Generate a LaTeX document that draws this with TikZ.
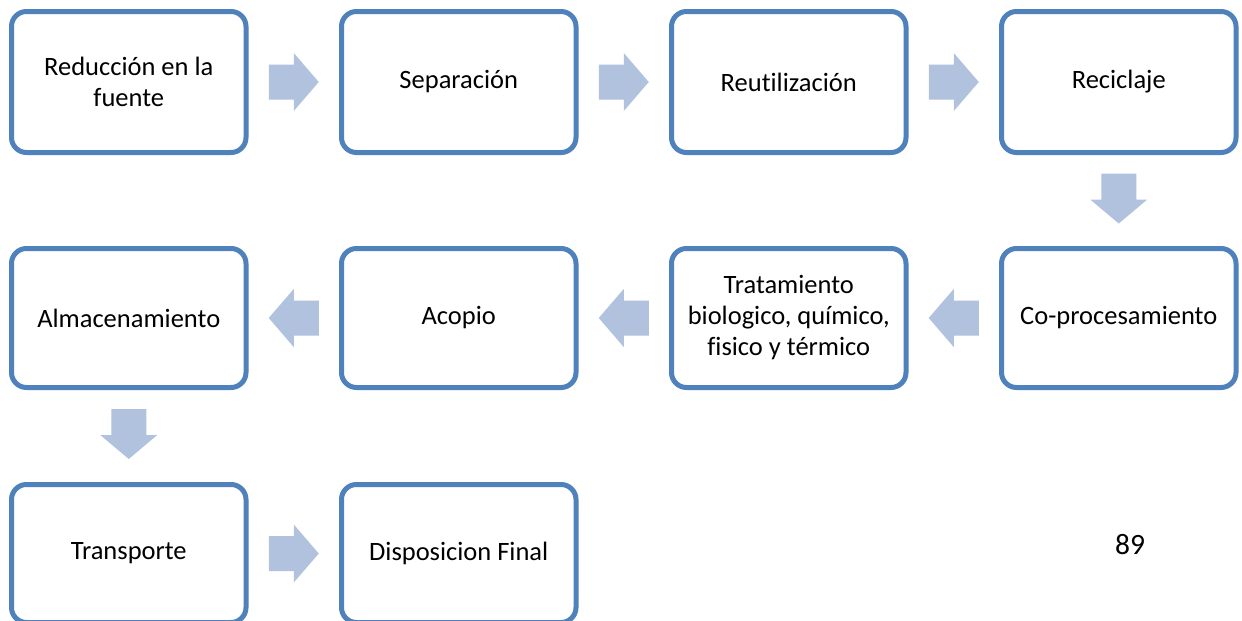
\documentclass[tikz,border=0pt]{standalone}
\usepackage{fontspec}
\setmainfont{Carlito}[Ligatures={NoCommon}]
\usetikzlibrary{calc}
\definecolor{boxblue}{RGB}{79,129,189}
\definecolor{arrowblue}{RGB}{176,194,222}
\tikzset{
  stepbox/.style={draw=boxblue, line width=5pt, fill=white, rounded corners=15pt,
    minimum width=234.5pt, minimum height=140pt, align=center, inner sep=4pt,
    font=\fontsize{26.5}{31}\selectfont},
  rarrow/.pic={\fill[arrowblue] (-25,-17.5)--(0,-17.5)--(0,-29)--(25,0)--(0,29)--(0,17.5)--(-25,17.5)--cycle;},
  larrow/.pic={\fill[arrowblue] (25,-17.5)--(0,-17.5)--(0,-29)--(-25,0)--(0,29)--(0,17.5)--(25,17.5)--cycle;},
  darrow/.pic={\fill[arrowblue] (-17.5,-25)--(17.5,-25)--(17.5,1)--(28.5,1)--(0,25)--(-28.5,1)--(-17.5,1)--cycle;}
}
\begin{document}
\begin{tikzpicture}[x=1pt,y=-1pt]
\clip (0,0) rectangle (1242,621);
\fill[white] (0,0) rectangle (1242,621);
% row 1
\node[stepbox, minimum height=141pt] (a1) at (128.75,82) {Reducción en la\\fuente};
\node[stepbox, minimum height=141pt] (a2) at (458.75,82) {Separación};
\node[stepbox, minimum height=141pt] (a3) at (788.75,82) {Reutilización};
\node[stepbox, minimum height=141pt] (a4) at (1118.75,82) {Reciclaje};
% row 2
\node[stepbox, minimum height=139pt] (b4) at (1118.75,318) {Co-procesamiento};
\node[stepbox, minimum height=139pt] (b3) at (788.75,318) {Tratamiento\\biologico, químico,\\fisico y térmico};
\node[stepbox, minimum height=139pt] (b2) at (458.75,318) {Acopio};
\node[stepbox, minimum height=139pt] (b1) at (128.75,318) {Almacenamiento};
% row 3
\node[stepbox, minimum height=138pt] (c1) at (128.75,553.5) {Transporte};
\node[stepbox, minimum height=138pt] (c2) at (458.75,553.5) {Disposicion Final};
% arrows
\pic at ($(a1.east)!0.5!(a2.west)$) {rarrow};
\pic at ($(a2.east)!0.5!(a3.west)$) {rarrow};
\pic at ($(a3.east)!0.5!(a4.west)$) {rarrow};
\pic at ($(a4.south)!0.5!(b4.north)+(0,-2)$) {darrow};
\pic at ($(b4.west)!0.5!(b3.east)$) {larrow};
\pic at ($(b3.west)!0.5!(b2.east)$) {larrow};
\pic at ($(b2.west)!0.5!(b1.east)$) {larrow};
\pic at ($(b1.south)!0.5!(c1.north)+(0,-2)$) {darrow};
\pic at ($(c1.east)!0.5!(c2.west)$) {rarrow};
% page number
\node[font=\fontsize{29.5}{34}\selectfont, inner sep=0pt] (pg) at (1130,545) {89};
\end{tikzpicture}
\end{document}
